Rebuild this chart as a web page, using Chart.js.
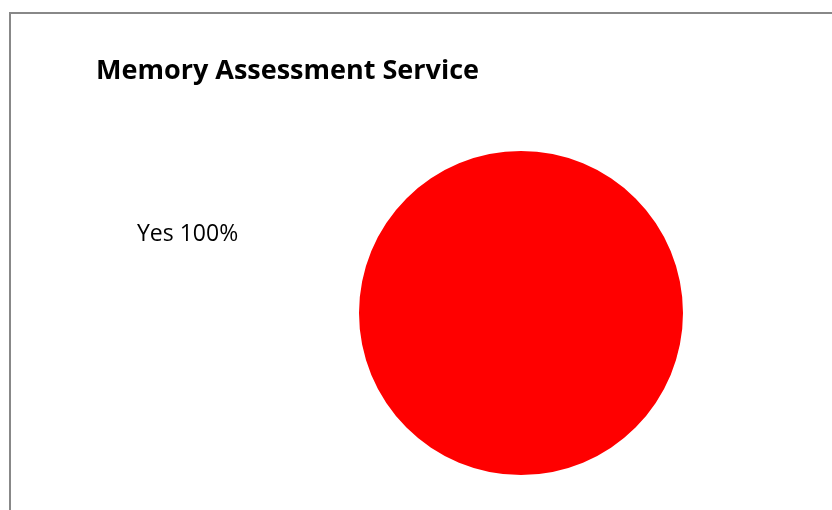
<!DOCTYPE html>
<html>
<head>
<meta charset="utf-8">
<script src="https://cdn.jsdelivr.net/npm/chart.js@4"></script>
<style>
  html, body { margin: 0; padding: 0; background: #fff; }
  #wrap { position: relative; width: 832px; height: 510px; overflow: hidden; }
  #frame {
    position: absolute; left: 9px; top: 12px; width: 900px; height: 600px;
    border-top: 2px solid #888; border-left: 2px solid #888;
  }
  canvas { position: absolute; left: 0; top: 0; }
</style>
</head>
<body>
<div id="wrap">
  <div id="frame"></div>
  <canvas id="chart" width="832" height="510"></canvas>
</div>
<script>
const chartTitle = 'Memory Assessment Service';
const categories = ['Yes'];
const values = [100];
const colors = ['#ff0000'];

// title and the data label are painted straight onto the canvas
const textPlugin = {
  id: 'textPlugin',
  afterDraw(chart) {
    const ctx = chart.ctx;
    const arc = chart.getDatasetMeta(0).data[0];
    const total = values.reduce((a, b) => a + b, 0);
    ctx.save();
    ctx.fillStyle = '#000';
    ctx.textBaseline = 'alphabetic';
    ctx.textAlign = 'left';
    ctx.font = 'bold 27px "Open Sans"';
    ctx.fillText(chartTitle, 96, 79);
    ctx.font = '23px "Open Sans"';
    const pct = Math.round(values[0] / total * 100);
    ctx.fillText(categories[0] + ' ' + pct + '%', arc.x - 384, arc.y - 72);
    ctx.restore();
  }
};

new Chart(document.getElementById('chart'), {
  type: 'pie',
  data: {
    labels: categories,
    datasets: [{
      data: values,
      backgroundColor: colors,
      borderWidth: 0
    }]
  },
  options: {
    responsive: false,
    animation: false,
    layout: { padding: { left: 359, right: 149, top: 151, bottom: 35 } },
    plugins: {
      legend: { display: false },
      title: { display: false },
      tooltip: { enabled: false }
    }
  },
  plugins: [textPlugin]
});
</script>
</body>
</html>
